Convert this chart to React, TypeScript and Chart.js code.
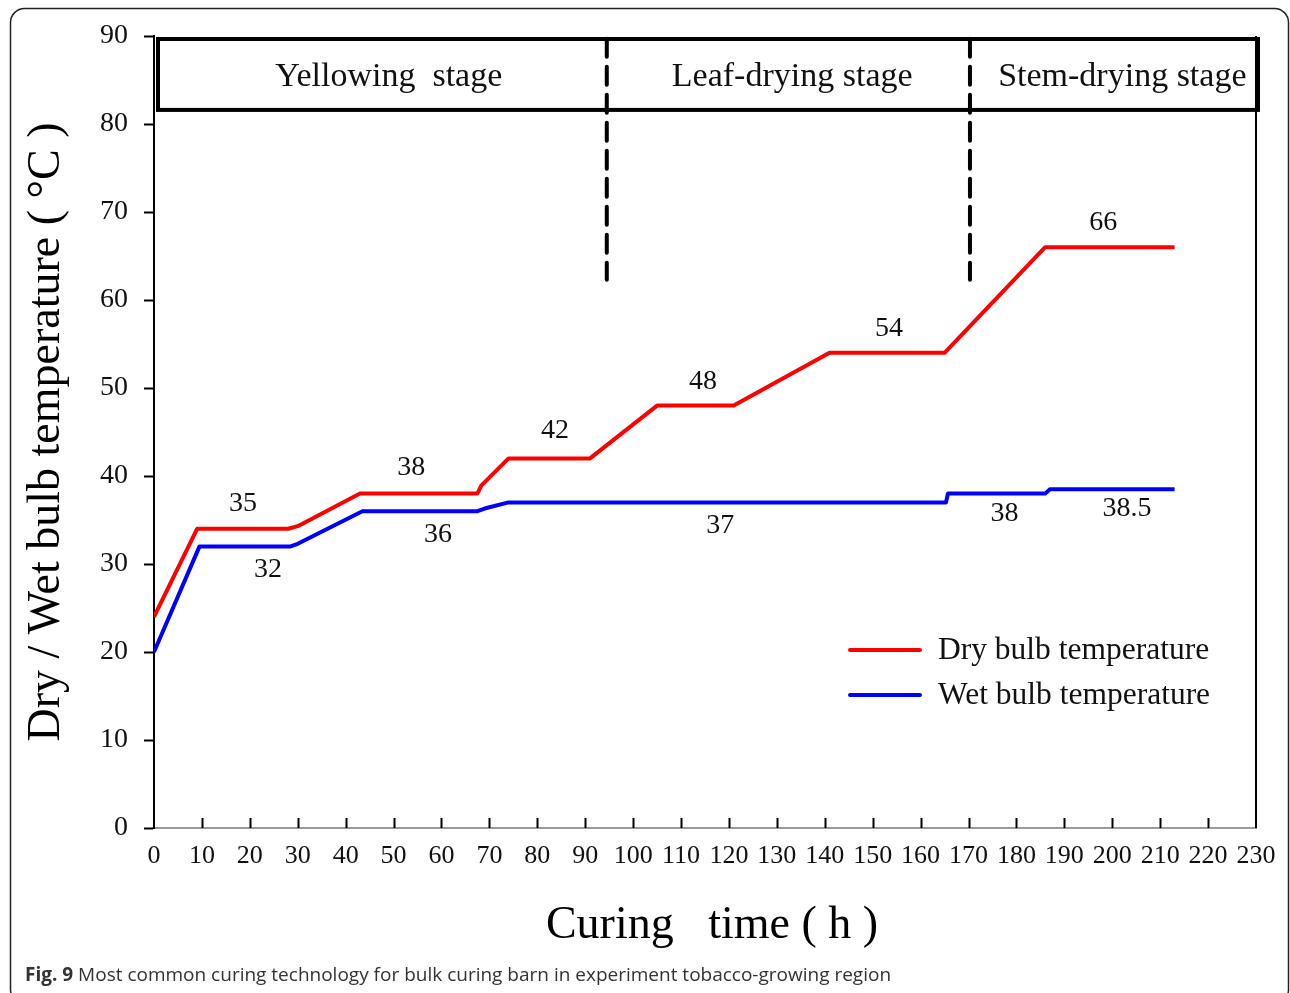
import React, { useEffect, useRef } from "react";
import { Chart, registerables } from "chart.js";

Chart.register(...registerables);

// ---- data ----
const dryX = [0, 9, 28, 30, 43, 67.5, 68.3, 74, 91, 105, 121, 141, 165, 186, 213];
const dryY = [24, 34, 34, 34.3, 38, 38, 38.9, 42, 42, 48, 48, 54, 54, 66, 66];
const wetX = [0, 9.5, 28.5, 30, 43.5, 67.5, 69, 74, 165.3, 165.7, 186, 187, 213];
const wetY = [20, 32, 32, 32.3, 36, 36, 36.3, 37, 37, 38, 38, 38.5, 38.5];

const seriesNames = ["Dry bulb temperature", "Wet bulb temperature"];

// stage boundaries (h) and the stage names
const stageBoundaries = [94.5, 170.3];
const stageNames = ["Yellowing  stage", "Leaf-drying stage", "Stem-drying stage"];
const stageLabelX = [49, 133.2, 202.1];

// value annotations
const noteText = ["35", "32", "38", "36", "42", "37", "48", "54", "66", "38", "38.5"];
const noteX = [18.6, 23.8, 53.7, 59.3, 83.7, 118.2, 114.6, 153.4, 198.1, 177.5, 203.1];
const noteY = [36.9, 29.4, 40.9, 33.3, 45.1, 34.4, 50.7, 56.7, 68.75, 35.7, 36.25];

const xTicksMin = 0;
const xTicksMax = 230;
const yTicksMin = 0;
const yTicksMax = 90;

const SERIF = "'Liberation Serif', 'Times New Roman', serif";

export default function App() {
  const ref = useRef<HTMLCanvasElement | null>(null);

  useEffect(() => {
    const canvas = ref.current;
    if (!canvas) return;

    const decor = {
      id: "decor",
      beforeDraw(chart: any) {
        const ctx = chart.ctx;
        ctx.save();
        ctx.fillStyle = "#ffffff";
        ctx.fillRect(0, 0, chart.width, chart.height);
        // outer rounded frame
        ctx.strokeStyle = "#222";
        ctx.lineWidth = 1.5;
        ctx.beginPath();
        (ctx as any).roundRect(10.5, 8.5, 1278, 995, 14);
        ctx.stroke();
        ctx.restore();
      },
      afterDatasetsDraw(chart: any) {
        const ctx = chart.ctx;
        const xs = chart.scales.x;
        const ys = chart.scales.y;
        const area = chart.chartArea;
        ctx.save();

        // inward x ticks
        ctx.strokeStyle = "#000";
        ctx.lineWidth = 2;
        for (let v = xTicksMin + 10; v < xTicksMax; v += 10) {
          const px = Math.round(xs.getPixelForValue(v)) + 0.5;
          ctx.beginPath();
          ctx.moveTo(px, area.bottom);
          ctx.lineTo(px, area.bottom - 10);
          ctx.stroke();
        }
        // right frame line
        ctx.beginPath();
        ctx.moveTo(area.right, area.top);
        ctx.lineTo(area.right, area.bottom);
        ctx.stroke();

        // stage box
        const bl = xs.getPixelForValue(0) + 4;
        const br = xs.getPixelForValue(230) + 2;
        const bt = ys.getPixelForValue(90) + 3;
        const bb = ys.getPixelForValue(81.6);
        ctx.lineWidth = 4;
        ctx.strokeRect(bl, bt, br - bl, bb - bt);

        // stage labels
        ctx.fillStyle = "#111";
        ctx.font = `34px ${SERIF}`;
        ctx.textAlign = "center";
        ctx.textBaseline = "middle";
        const ly = (bt + bb) / 2 + 3;
        stageNames.forEach((s, i) => {
          ctx.fillText(s, xs.getPixelForValue(stageLabelX[i]), ly);
        });

        // value annotations
        ctx.font = `28px ${SERIF}`;
        noteText.forEach((t, i) => {
          ctx.fillText(t, xs.getPixelForValue(noteX[i]), ys.getPixelForValue(noteY[i]));
        });

        // legend
        const legendY = [650, 695];
        ctx.textAlign = "left";
        ctx.font = `31.5px ${SERIF}`;
        ctx.lineCap = "round";
        chart.data.datasets.slice(0, 2).forEach((d: any, i: number) => {
          ctx.strokeStyle = d.borderColor;
          ctx.lineWidth = 4;
          ctx.beginPath();
          ctx.moveTo(850, legendY[i]);
          ctx.lineTo(920, legendY[i]);
          ctx.stroke();
          ctx.fillStyle = "#111";
          ctx.fillText(d.label, 938, legendY[i] + 1);
        });

        // axis titles
        ctx.fillStyle = "#000";
        ctx.font = `46px ${SERIF}`;
        ctx.textAlign = "center";
        ctx.fillText("Curing   time ( h )", 712, 926);
        ctx.save();
        ctx.translate(47, 432);
        ctx.rotate(-Math.PI / 2);
        ctx.font = `46px ${SERIF}`;
        ctx.fillText("Dry / Wet bulb temperature ( \u00B0C )", 0, 0);
        ctx.restore();

        // caption
        ctx.textAlign = "left";
        ctx.textBaseline = "alphabetic";
        ctx.fillStyle = "#333";
        ctx.font = `bold 19px 'Open Sans', sans-serif`;
        ctx.fillText("Fig. 9", 25, 981);
        const w = ctx.measureText("Fig. 9 ").width;
        ctx.font = `19px 'Open Sans', sans-serif`;
        ctx.fillText(
          "Most common curing technology for bulk curing barn in experiment tobacco-growing region",
          25 + w,
          981
        );
        ctx.restore();
      },
    };

    const chart = new Chart(canvas, {
      type: "line",
      data: {
        datasets: [
          {
            label: seriesNames[0],
            data: dryX.map((x, i) => ({ x, y: dryY[i] })),
            borderColor: "#ff0000",
            borderWidth: 4,
            pointRadius: 0,
            tension: 0,
            borderJoinStyle: "round",
          },
          {
            label: seriesNames[1],
            data: wetX.map((x, i) => ({ x, y: wetY[i] })),
            borderColor: "#0000ff",
            borderWidth: 4,
            pointRadius: 0,
            tension: 0,
            borderJoinStyle: "round",
          },
          ...stageBoundaries.map((b) => ({
            label: "",
            data: [
              { x: b, y: 89.7 },
              { x: b, y: 62.3 },
            ],
            borderColor: "#000000",
            borderWidth: 4,
            borderDash: [18, 10],
            borderCapStyle: "round",
            pointRadius: 0,
          })),
        ],
      },
      options: {
        animation: false,
        responsive: false,
        layout: { padding: { left: 0, right: 34, top: 36, bottom: 0 } },
        plugins: {
          legend: { display: false },
          tooltip: { enabled: false },
        },
        scales: {
          x: {
            type: "linear",
            min: xTicksMin,
            max: xTicksMax,
            afterFit: (s: any) => {
              s.height = 165;
            },
            ticks: {
              stepSize: 10,
              color: "#111",
              font: { family: SERIF, size: 26 },
              padding: 13,
              maxRotation: 0,
              autoSkip: false,
            },
            grid: { display: true, drawOnChartArea: false, drawTicks: false },
            border: { display: true, color: "#9a9a9a", width: 2 },
          },
          y: {
            min: yTicksMin,
            max: yTicksMax,
            afterFit: (s: any) => {
              s.width = 154;
            },
            ticks: {
              stepSize: 10,
              color: "#111",
              font: { family: SERIF, size: 28 },
              padding: 16,
            },
            grid: {
              display: true,
              drawOnChartArea: false,
              drawTicks: true,
              tickLength: 10,
              tickColor: "#000",
              tickWidth: 2,
            },
            border: { display: true, color: "#000", width: 2 },
          },
        },
      },
      plugins: [decor],
    } as any);

    return () => chart.destroy();
  }, []);

  return (
    <div style={{ position: "absolute", left: 0, top: 0, width: 1290, height: 993, background: "#fff" }}>
      <canvas ref={ref} width={1290} height={993} style={{ width: 1290, height: 993, display: "block" }} />
    </div>
  );
}
